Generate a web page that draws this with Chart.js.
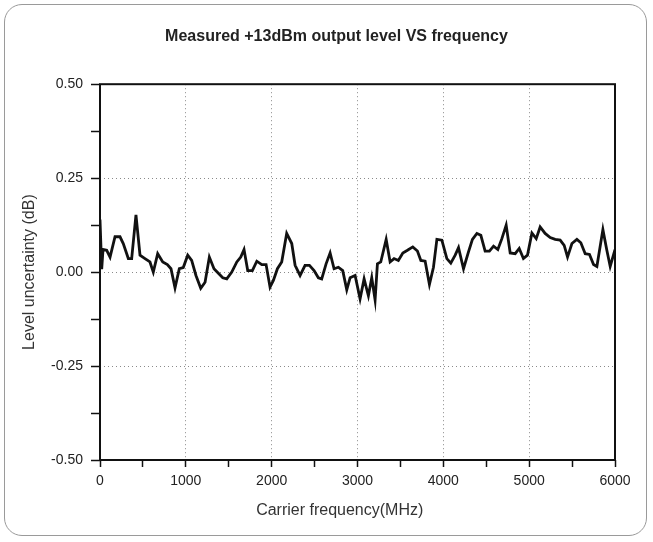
<!DOCTYPE html>
<html>
<head>
<meta charset="utf-8">
<script src="https://cdn.jsdelivr.net/npm/chart.js@4"></script>
<style>
  body { margin: 0; background: #fff; }
  .card {
    position: absolute; left: 4px; top: 4px; width: 641px; height: 530px;
    border: 1.5px solid #9a9a9a; border-radius: 18px;
  }
  #levelChart { position: absolute; left: 0; top: 0; }
</style>
</head>
<body>
<div class="card"></div>
<canvas id="levelChart" width="653" height="542"></canvas>
<script>

// DATA

const freqMHz = [
    0, 20, 35, 78, 117, 175, 233, 271, 330, 369, 419, 466, 524, 582, 621, 672, 731, 785, 827, 874,
    924, 970, 1022, 1068, 1118, 1174, 1224, 1274, 1328, 1379, 1430, 1477, 1535, 1594, 1640, 1678, 1721, 1775, 1827, 1885,
    1935, 1981, 2020, 2067, 2117, 2175, 2234, 2273, 2331, 2389, 2440, 2494, 2544, 2583, 2634, 2681, 2727, 2777, 2828, 2875,
    2914, 2972, 3030, 3077, 3127, 3166, 3205, 3232, 3271, 3334, 3380, 3426, 3476, 3528, 3582, 3644, 3698, 3738, 3788, 3838,
    3885, 3925, 3983, 4041, 4087, 4138, 4177, 4235, 4293, 4339, 4391, 4437, 4487, 4537, 4585, 4635, 4682, 4732, 4779, 4837,
    4884, 4933, 4980, 5032, 5082, 5128, 5186, 5245, 5303, 5361, 5408, 5447, 5498, 5556, 5602, 5653, 5703, 5750, 5789, 5859,
    5905, 5944, 6000
];

const levelDb = [
    0.14, 0.008, 0.06, 0.058, 0.04, 0.094, 0.094, 0.076, 0.036, 0.036, 0.152, 0.045, 0.036, 0.027, 0.0, 0.049, 0.027, 0.02, 0.009, -0.042,
    0.009, 0.012, 0.045, 0.031, -0.009, -0.043, -0.027, 0.04, 0.009, -0.003, -0.015, -0.018, 0.0, 0.027, 0.04, 0.06, 0.004, 0.004, 0.029, 0.02,
    0.02, -0.04, -0.022, 0.009, 0.027, 0.103, 0.076, 0.018, -0.009, 0.018, 0.018, 0.004, -0.015, -0.018, 0.022, 0.051, 0.009, 0.013, 0.004, -0.047,
    -0.015, -0.009, -0.071, -0.018, -0.063, -0.015, -0.074, 0.022, 0.027, 0.087, 0.027, 0.036, 0.031, 0.051, 0.058, 0.067, 0.056, 0.031, 0.029, -0.033,
    0.013, 0.087, 0.085, 0.036, 0.024, 0.045, 0.065, 0.009, 0.054, 0.087, 0.103, 0.098, 0.056, 0.056, 0.069, 0.06, 0.089, 0.125, 0.051, 0.049,
    0.063, 0.036, 0.045, 0.104, 0.089, 0.12, 0.103, 0.092, 0.087, 0.085, 0.071, 0.04, 0.076, 0.087, 0.078, 0.049, 0.047, 0.02, 0.015, 0.113,
    0.058, 0.015, 0.06
];

const xMin = 0, xMax = 6000, xMajor = 1000, xMinor = 500;
const yMin = -0.5, yMax = 0.5, yMajor = 0.25, yMinor = 0.125;


// PLUGINS

// box round the plot area
const frameBox = {
    id: "frameBox",
    afterDatasetsDraw(chart) {
        const { ctx, chartArea: a } = chart;
        ctx.save();
        ctx.strokeStyle = "#111";
        ctx.lineWidth = 2;
        ctx.strokeRect(a.left, a.top, a.right - a.left, a.bottom - a.top);
        ctx.restore();
    }
};

// the original title sits a bit right of the canvas centre
const titleNudge = {
    id: "titleNudge",
    afterLayout(chart) {
        if (chart.titleBlock) chart.titleBlock.left += 44;
    }
};

const isMajor = (v, step) => Math.abs(v / step - Math.round(v / step)) < 1e-6;
const family = "'Liberation Sans', Arial, sans-serif";


// INIT CHART

const ctx = document.getElementById("levelChart").getContext("2d");

new Chart(ctx, {
    type: "line",
    data: {
        datasets: [{
            data: freqMHz.map((f, i) => ({ x: f, y: levelDb[i] })),
            borderColor: "#111",
            borderWidth: 2.8,
            pointRadius: 0,
            tension: 0,
            fill: false
        }]
    },
    options: {
        responsive: false,
        animation: false,
        layout: { padding: { left: 14, right: 38, top: 0, bottom: 0 } },
        plugins: {
            legend: { display: false },
            tooltip: { enabled: false },
            title: {
                display: true,
                text: "Measured +13dBm output level VS frequency",
                color: "#222",
                font: { family: family, size: 16, weight: "bold" },
                padding: { top: 27, bottom: 38 }
            }
        },
        scales: {
            x: {
                type: "linear",
                min: xMin,
                max: xMax,
                afterBuildTicks: (s) => {
                    s.ticks = [];
                    for (let v = xMin; v <= xMax; v += xMinor) s.ticks.push({ value: v });
                },
                afterFit: (s) => { s.height = 82; },
                border: { display: false, dash: [1, 3] },
                grid: {
                    color: (c) => (c.tick && isMajor(c.tick.value, xMajor) && c.tick.value > xMin && c.tick.value < xMax) ? "#8a8a8a" : "rgba(0,0,0,0)",
                    tickColor: "#111",
                    tickLength: 7,
                    tickWidth: 1.5
                },
                ticks: {
                    color: "#222",
                    font: { family: family, size: 14 },
                    padding: 6,
                    maxRotation: 0,
                    autoSkip: false,
                    callback: (v) => isMajor(v, xMajor) ? String(v) : ""
                },
                title: {
                    display: true,
                    text: "Carrier frequency(MHz)        ",
                    color: "#333",
                    font: { family: family, size: 16 },
                    padding: { top: 0, bottom: 22 }
                }
            },
            y: {
                min: yMin,
                max: yMax,
                afterBuildTicks: (s) => {
                    s.ticks = [];
                    for (let i = 0; i <= 8; i++) s.ticks.push({ value: yMin + i * yMinor });
                },
                afterFit: (s) => { s.width = 86; },
                border: { display: false, dash: [1, 3] },
                grid: {
                    color: (c) => (c.tick && isMajor(c.tick.value, yMajor) && c.tick.value > yMin && c.tick.value < yMax) ? "#8a8a8a" : "rgba(0,0,0,0)",
                    tickColor: "#111",
                    tickLength: 9,
                    tickWidth: 1.5
                },
                ticks: {
                    color: "#222",
                    font: { family: family, size: 14 },
                    padding: 8,
                    autoSkip: false,
                    callback: (v) => isMajor(v, yMajor) ? Number(v).toFixed(2) : ""
                },
                title: {
                    display: true,
                    text: "Level uncertainty (dB)",
                    color: "#333",
                    font: { family: family, size: 16 },
                    padding: { top: 6, bottom: 0 }
                }
            }
        }
    },
    plugins: [frameBox, titleNudge]
});

</script>
</body>
</html>
